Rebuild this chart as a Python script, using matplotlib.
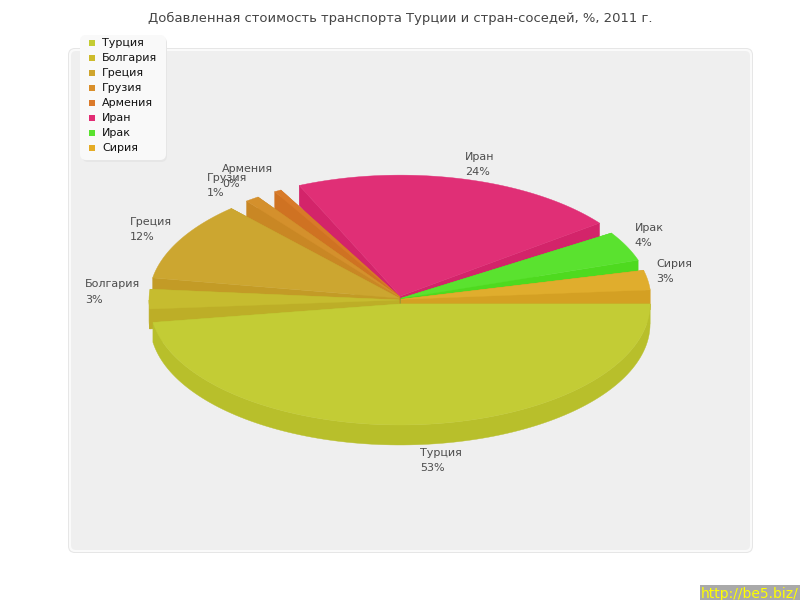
import numpy as np
import matplotlib
matplotlib.use("Agg")
import matplotlib.pyplot as plt
from matplotlib.patches import FancyBboxPatch, Polygon, Rectangle

# Added value of transport, share in %
countries = ["Турция", "Болгария", "Греция", "Грузия", "Армения", "Иран", "Ирак", "Сирия"]
shares = [52.9, 2.9, 11.8, 1.0, 0.5, 23.7, 4.4, 2.9]
top_colors = ["#C3CC35", "#C6BC2F", "#CCA630", "#D4902C", "#D87A28", "#E02F76", "#5AE22F", "#E0AD2D"]
wall_colors = ["#B8BF2B", "#BDAE27", "#C39B26", "#C98724", "#CF7222", "#D3246A", "#4EDA1F", "#D4A023"]
legend_colors = ["#C4CC32", "#CDBB2B", "#CFA52D", "#D98F2A", "#DB7A2A", "#E22C74", "#5AE22F", "#E5AC26"]

title = "Добавленная стоимость транспорта Турции и стран-соседей, %, 2011 г."

cx, cy = 400, 300
rx, ry = 250, 121
depth = 20
gap = 4.5

fig = plt.figure(figsize=(8, 6), dpi=100)
ax = fig.add_axes([0, 0, 1, 1])
ax.set_xlim(0, 800)
ax.set_ylim(600, 0)
ax.axis("off")

# panel
ax.add_patch(FancyBboxPatch((68, 48), 685, 505, boxstyle="round,pad=0,rounding_size=7",
                            fc="#E6E6E6", ec="none", zorder=1))
ax.add_patch(FancyBboxPatch((69, 49), 683, 503, boxstyle="round,pad=0,rounding_size=6",
                            fc="#FAFAFA", ec="none", zorder=1))
ax.add_patch(FancyBboxPatch((71, 51), 679, 499, boxstyle="round,pad=0,rounding_size=5",
                            fc="#EFEFEF", ec="none", zorder=1))

ax.text(400.5, 18, title, ha="center", va="center", fontsize=9.45, color="#444444", zorder=10)


def ellipse_pts(ox, oy, t):
    t = np.radians(t)
    return np.column_stack([ox + rx * np.cos(t), oy + ry * np.sin(t)])


# slices go clockwise on screen from the right edge, with a gap after each one
scale = (360 - gap * len(shares)) / sum(shares)
starts = []
ends = []
pos = 0
for s in shares:
    starts.append(pos)
    ends.append(pos + s * scale)
    pos = pos + s * scale + gap
mids = [(a + b) / 2 for a, b in zip(starts, ends)]

# back slices first
order = sorted(range(len(shares)), key=lambda i: np.sin(np.radians(mids[i])))
z = 3
for i in order:
    a, b, m = starts[i], ends[i], np.radians(mids[i])
    ox = cx + 1 * np.cos(m)
    oy = cy + 4 * np.sin(m)
    arc = ellipse_pts(ox, oy, np.linspace(a, b, 120))
    apex = np.array([[ox, oy]])
    down = np.array([0, depth])
    for edge in (arc[0], arc[-1]):
        wall = np.vstack([apex, [edge], [edge + down], apex + down])
        ax.add_patch(Polygon(wall, fc=wall_colors[i], ec=wall_colors[i], lw=0.3, zorder=z))
    if a < 180:
        front = ellipse_pts(ox, oy, np.linspace(a, min(b, 180), 120))
        ax.add_patch(Polygon(np.vstack([front, front[::-1] + down]), fc=wall_colors[i],
                             ec=wall_colors[i], lw=0.3, zorder=z))
    ax.add_patch(Polygon(np.vstack([apex, arc]), fc=top_colors[i], ec=top_colors[i], lw=0.3, zorder=z + 0.5))
    z += 1

# slice labels sit just outside the rim
for i in range(len(shares)):
    m = np.radians(mids[i])
    x = cx + (rx + 10) * np.cos(m)
    y = cy + (ry + 12) * np.sin(m)
    if np.sin(m) > 0:
        y += depth + 8
    else:
        y -= 7
    ha = "left" if np.cos(m) > 0 else "right"
    label = f"{shares[i]:.0f}%" if shares[i] != 0.5 else "0%"
    ax.text(x, y, f"{countries[i]}\n{label}", ha=ha, va="center", multialignment="left",
            fontsize=8, color="#4D4D4D", linespacing=1.64, zorder=20)

# legend
ax.add_patch(FancyBboxPatch((82, 37), 85, 125, boxstyle="round,pad=0,rounding_size=6",
                            fc="#E6E6E6", ec="none", zorder=30))
ax.add_patch(FancyBboxPatch((80, 35), 86, 125, boxstyle="round,pad=0,rounding_size=6",
                            fc="#F9F9F9", ec="none", zorder=31))
for i, name in enumerate(countries):
    y = 43 + 15 * i
    ax.add_patch(Rectangle((89, y - 3), 6, 6, fc=legend_colors[i], ec="none", zorder=32))
    ax.text(102, y, name, ha="left", va="center", fontsize=8, color="#111111", zorder=32)

# site stamp
ax.add_patch(Rectangle((700, 585), 100, 15, fc="#A9A9A9", ec="none", zorder=40))
ax.text(701, 594, "http://be5.biz/", ha="left", va="center", fontsize=10, color="#FFFF00",
        clip_on=True, zorder=41)

plt.savefig("out.png", dpi=100)
